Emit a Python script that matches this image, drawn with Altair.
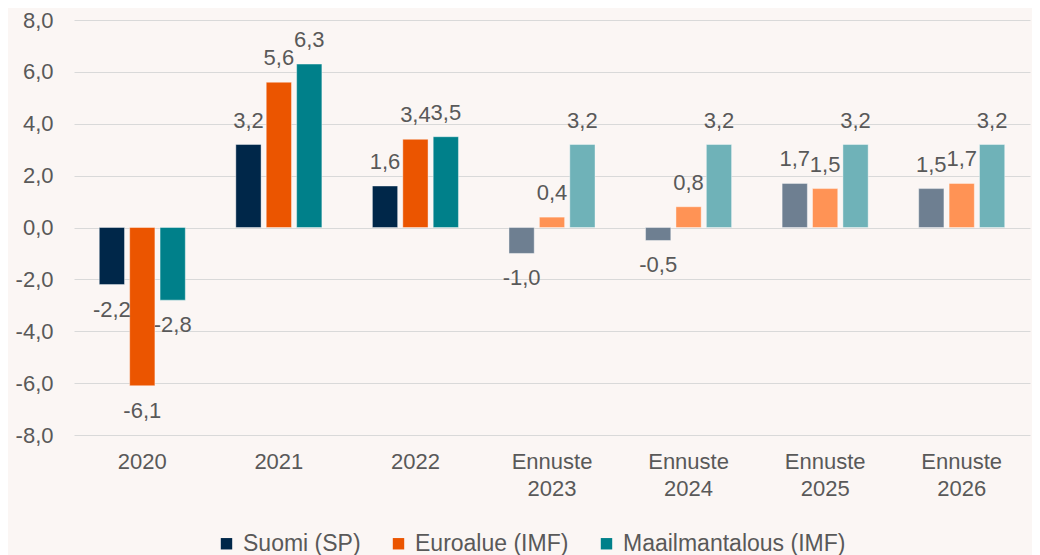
import altair as alt
import pandas as pd

categories = ["2020", "2021", "2022", "Ennuste 2023", "Ennuste 2024", "Ennuste 2025", "Ennuste 2026"]
forecast = [False, False, False, True, True, True, True]
series = ["Suomi (SP)", "Euroalue (IMF)", "Maailmantalous (IMF)"]
suomi = [-2.2, 3.2, 1.6, -1.0, -0.5, 1.7, 1.5]
euro = [-6.1, 5.6, 3.4, 0.4, 0.8, 1.5, 1.7]
world = [-2.8, 6.3, 3.5, 3.2, 3.2, 3.2, 3.2]

colors = ["#002749", "#EB5500", "#00808A"]
light_colors = ["#6E7F91", "#FF9355", "#6FB2B8"]

rows = []
for vals, s in zip([suomi, euro, world], series):
    for c, f, v in zip(categories, forecast, vals):
        rows.append({
            "category": c,
            "series": s,
            "value": v,
            "key": s + (" ennuste" if f else ""),
            "label": f"{v:.1f}".replace(".", ","),
        })
df = pd.DataFrame(rows)

keys = series + [s + " ennuste" for s in series]
color_scale = alt.Scale(domain=keys, range=colors + light_colors)

FONT = "Liberation Sans"
TXT = "#595959"

x = alt.X("category:N", sort=categories, title=None,
          scale=alt.Scale(paddingInner=0.37, paddingOuter=0.185),
          axis=alt.Axis(labelExpr="split(datum.label, ' ')", labelAngle=0,
                        labelFontSize=22, labelColor=TXT, labelPadding=16,
                        labelLineHeight=27, ticks=False, domain=False, grid=False,
                        labelFont=FONT))
xo = alt.XOffset("series:N", sort=series, scale=alt.Scale(paddingInner=0.17))
y = alt.Y("value:Q", title=None,
          scale=alt.Scale(domain=[-8, 8], nice=False),
          axis=alt.Axis(values=[-8, -6, -4, -2, 0, 2, 4, 6, 8],
                        labelExpr="replace(replace(format(datum.value, '.1f'), '.', ','), '\u2212', '-')",
                        labelFontSize=22, labelColor=TXT, labelPadding=21,
                        ticks=False, domain=False, gridColor="#D9D9D9", gridWidth=1.2,
                        labelFont=FONT))

base = alt.Chart(df)

bars = base.mark_bar(stroke="#FFFFFF", strokeOpacity=0.4, strokeWidth=1).encode(
    x=x, xOffset=xo, y=y,
    color=alt.Color("key:N", scale=color_scale,
                    legend=alt.Legend(values=series, title=None, orient="none",
                                      direction="horizontal", legendX=141, legendY=512,
                                      symbolType="square", symbolSize=130,
                                      symbolStrokeWidth=0, labelFontSize=23,
                                      labelColor=TXT, labelFont=FONT, labelLimit=500,
                                      columnPadding=26, labelOffset=5)),
)

pos_labels = base.transform_filter("datum.value >= 0").mark_text(
    baseline="alphabetic", dy=-17, fontSize=22, color=TXT, font=FONT
).encode(x=x, xOffset=xo, y=y, text="label:N")

neg_labels = base.transform_filter("datum.value < 0").mark_text(
    baseline="alphabetic", dy=32, fontSize=22, color=TXT, font=FONT
).encode(x=x, xOffset=xo, y=y, text="label:N")

chart = alt.layer(bars, pos_labels, neg_labels).properties(
    width=956, height=415,
    background="#FBF6F4",
    padding={"left": 66, "top": 12, "right": 2, "bottom": 120},
    autosize=alt.AutoSizeParams(type="none"),
).configure_view(stroke=None)

chart.save("out.html", embed_options={"renderer": "svg", "actions": False})
